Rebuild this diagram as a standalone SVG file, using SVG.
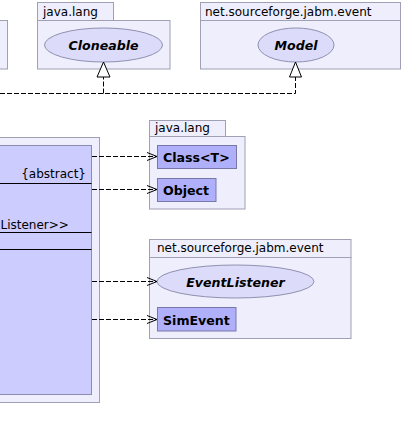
<svg xmlns="http://www.w3.org/2000/svg" width="404" height="440" viewBox="0 0 404 440">
<defs>
<style>
.pkg{fill:#eeeefc;stroke:#a0a0b4;stroke-width:1}
.cls{fill:#b0b0fa;stroke:#7878a8;stroke-width:1}
.main{fill:#ccccff;stroke:#8c8cb0;stroke-width:1}
.iface{fill:#dcdcfa;stroke:#9090b0;stroke-width:1}
.t{font-family:"DejaVu Sans",sans-serif;font-size:12px;fill:#000}
.b{font-family:"DejaVu Sans",sans-serif;font-size:12.6px;font-weight:bold;fill:#000}
.bi{font-family:"DejaVu Sans",sans-serif;font-size:12.6px;font-weight:bold;font-style:italic;fill:#000}
.dep{fill:none;stroke:#000;stroke-width:1;stroke-dasharray:5,2}
.real{fill:none;stroke:#000;stroke-width:1;stroke-dasharray:5,2}
</style>
<marker id="vee" viewBox="0 0 12 10" refX="11" refY="5" markerWidth="12" markerHeight="10" markerUnits="userSpaceOnUse" orient="auto">
<polyline points="1,1 11,5 1,9" fill="none" stroke="#000" stroke-width="1"/>
</marker>
</defs>
<rect width="404" height="440" fill="#ffffff"/>

<g id="pkg-left-top">
<rect class="pkg" x="-20" y="20.5" width="27.5" height="48.5"/>
</g>

<g id="pkg-java-lang-top">
<rect class="pkg" x="37.5" y="2.5" width="76" height="18"/>
<rect class="pkg" x="37.5" y="20.5" width="132.5" height="48.5"/>
<text class="t" x="43" y="16">java.lang</text>
</g>
<g id="Cloneable">
<ellipse class="iface" cx="103.5" cy="45" rx="59" ry="17"/>
<text class="bi" x="103.5" y="49.5" text-anchor="middle">Cloneable</text>
</g>

<g id="pkg-jabm-event-top">
<rect class="pkg" x="200.5" y="2.5" width="200" height="18"/>
<rect class="pkg" x="200.5" y="20.5" width="200" height="48.5"/>
<text class="t" x="205" y="16">net.sourceforge.jabm.event</text>
</g>
<g id="Model">
<ellipse class="iface" cx="296" cy="45" rx="38" ry="17"/>
<text class="bi" x="296" y="49.5" text-anchor="middle">Model</text>
</g>

<g id="main-class">
<rect class="pkg" x="-20" y="137.5" width="119.5" height="265"/>
<rect class="main" x="-20" y="145.5" width="111.5" height="249"/>
<text class="t" x="86" y="178" text-anchor="end">{abstract}</text>
<line x1="0" y1="183.5" x2="91.5" y2="183.5" stroke="#000"/>
<text class="t" x="0.5" y="228.5">Listener&gt;&gt;</text>
<line x1="0" y1="232.5" x2="91.5" y2="232.5" stroke="#000"/>
<line x1="0" y1="249.5" x2="91.5" y2="249.5" stroke="#000"/>
</g>

<g id="pkg-java-lang">
<rect class="pkg" x="149.5" y="120.5" width="76" height="16"/>
<rect class="pkg" x="149.5" y="136.5" width="95.5" height="72.5"/>
<text class="t" x="155" y="132">java.lang</text>
</g>
<g id="ClassT">
<rect class="cls" x="157.5" y="145.5" width="79" height="23"/>
<text class="b" x="163" y="161.5">Class&lt;T&gt;</text>
</g>
<g id="Object">
<rect class="cls" x="157.5" y="178.5" width="58.5" height="23"/>
<text class="b" x="163" y="194.5">Object</text>
</g>

<g id="pkg-jabm-event">
<rect class="pkg" x="149.5" y="239.5" width="201.5" height="18"/>
<rect class="pkg" x="149.5" y="257.5" width="201.5" height="81"/>
<text class="t" x="157" y="252">net.sourceforge.jabm.event</text>
</g>
<g id="EventListener">
<ellipse class="iface" cx="235.5" cy="281.5" rx="78.5" ry="16.5"/>
<text class="bi" x="235.5" y="286.5" text-anchor="middle">EventListener</text>
</g>
<g id="SimEvent">
<rect class="cls" x="157.5" y="307.5" width="78.5" height="23.5"/>
<text class="b" x="163" y="324.5">SimEvent</text>
</g>

<g id="connectors">
<path class="real" d="M0,93.5 H295.5 V77"/>
<path class="real" d="M103.5,93.5 V77"/>
<polygon points="103.5,62 97,77 110,77" fill="#fff" stroke="#000" stroke-width="1"/>
<polygon points="295.5,62 289.5,77 301.5,77" fill="#fff" stroke="#000" stroke-width="1"/>
<path class="dep" d="M92,156.5 H157" marker-end="url(#vee)"/>
<path class="dep" d="M92,189.5 H157" marker-end="url(#vee)"/>
<path class="dep" d="M92,281.5 H157" marker-end="url(#vee)"/>
<path class="dep" d="M92,319.5 H157" marker-end="url(#vee)"/>
</g>
</svg>
